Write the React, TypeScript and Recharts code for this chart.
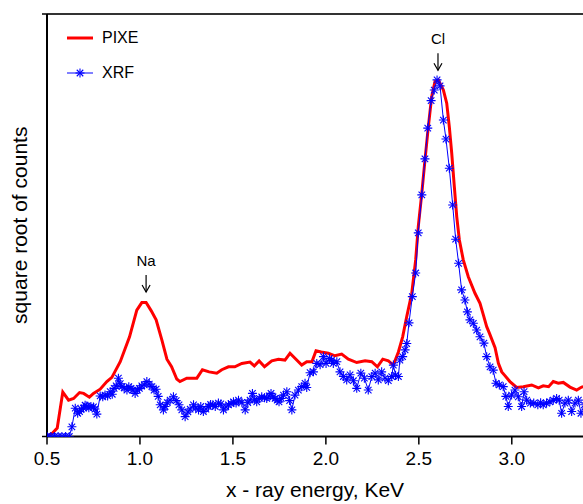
import React from 'react';
import { LineChart, Line, XAxis, YAxis, ReferenceDot, ReferenceLine } from 'recharts';

// energies in KeV, counts in arbitrary "square root of counts" units (top of frame = 100)
const pixeEnergy = [
  0.5, 0.53, 0.555, 0.585, 0.616, 0.643, 0.675, 0.697, 0.728, 0.75, 0.786, 0.822, 0.849, 0.894, 0.944,
  0.983, 1.01, 1.033, 1.06, 1.087, 1.118, 1.145, 1.17, 1.198, 1.215, 1.252, 1.306, 1.336, 1.372, 1.413,
  1.44, 1.476, 1.51, 1.548, 1.592, 1.615, 1.641, 1.67, 1.709, 1.745, 1.78, 1.807, 1.843, 1.87, 1.897,
  1.925, 1.947, 1.975, 2.013, 2.049, 2.085, 2.121, 2.166, 2.211, 2.247, 2.277, 2.306, 2.336, 2.363, 2.39,
  2.413, 2.435, 2.462, 2.483, 2.497, 2.516, 2.533, 2.551, 2.569, 2.587, 2.605, 2.632, 2.65, 2.664, 2.677,
  2.691, 2.704, 2.718, 2.739, 2.766, 2.802, 2.829, 2.847, 2.865, 2.88, 2.91, 2.928, 2.946, 2.963, 2.99,
  3.026, 3.062, 3.107, 3.143, 3.169, 3.198, 3.223, 3.25, 3.277, 3.313, 3.349, 3.376, 3.4,
];
const pixeCounts = [
  0, 0.8, 2, 10.5, 8.6, 9.0, 10.4, 10.2, 9.3, 10.2, 11.2, 13, 14, 17.7, 23.6,
  29.9, 31.7, 31.7, 29.8, 27.6, 22.8, 18.3, 16.5, 13.6, 13.0, 13.8, 13.8, 15.8, 15.3, 15.0,
  15.8, 16.5, 16.5, 17.3, 17.6, 16.7, 17.9, 16.5, 17.9, 18.3, 18.1, 19.7, 18.1, 16.9, 17.7,
  17.7, 20.3, 20.0, 19.7, 19.1, 19.5, 18.3, 17.5, 17.9, 17.7, 16.5, 18.3, 17.9, 16.9, 20.0,
  23.6, 28.4, 33.9, 41.8, 49.7, 57.6, 65.4, 73.3, 80.4, 84.0, 84.4, 82, 78.9, 73.3, 67,
  59.1, 52, 46.5, 41.8, 37.8, 33.9, 31.5, 28.8, 26, 24.4, 21.0, 17.3, 15.3, 14.4, 13.0,
  11.6, 11.8, 12.2, 11.5, 12.0, 11.8, 13.0, 12.6, 12.8, 11.7, 11.0, 11.7, 12,
];

const xrfEnergy = [
  0.5, 0.52, 0.54, 0.56, 0.58, 0.6, 0.62, 0.634, 0.652, 0.665, 0.675, 0.685, 0.696, 0.705, 0.714,
  0.725, 0.736, 0.75, 0.758, 0.768, 0.786, 0.8, 0.812, 0.826, 0.84, 0.851, 0.861, 0.872, 0.884, 0.894,
  0.903, 0.915, 0.93, 0.94, 0.952, 0.962, 0.974, 0.986, 0.997, 1.01, 1.023, 1.037, 1.05, 1.064, 1.076,
  1.087, 1.098, 1.109, 1.126, 1.135, 1.147, 1.162, 1.18, 1.195, 1.21, 1.225, 1.243, 1.258, 1.27, 1.288,
  1.3, 1.315, 1.327, 1.341, 1.355, 1.368, 1.38, 1.392, 1.405, 1.422, 1.435, 1.449, 1.462, 1.476, 1.49,
  1.503, 1.517, 1.53, 1.548, 1.566, 1.58, 1.592, 1.605, 1.617, 1.628, 1.642, 1.655, 1.67, 1.682, 1.695,
  1.705, 1.716, 1.727, 1.738, 1.748, 1.76, 1.772, 1.79, 1.805, 1.817, 1.834, 1.852, 1.87, 1.888, 1.897,
  1.915, 1.933, 1.951, 1.969, 1.987, 2.001, 2.019, 2.03, 2.04, 2.059, 2.076, 2.094, 2.112, 2.13, 2.148,
  2.166, 2.188, 2.207, 2.228, 2.247, 2.265, 2.282, 2.3, 2.318, 2.336, 2.354, 2.363, 2.375, 2.39, 2.398,
  2.413, 2.426, 2.435, 2.447, 2.465, 2.483, 2.497, 2.516, 2.533, 2.548, 2.566, 2.583, 2.598, 2.614, 2.632,
  2.646, 2.664, 2.682, 2.698, 2.714, 2.73, 2.748, 2.761, 2.775, 2.793, 2.811, 2.829, 2.85, 2.865, 2.883,
  2.9, 2.915, 2.933, 2.954, 2.968, 2.981, 2.999, 3.017, 3.035, 3.053, 3.066, 3.08, 3.1, 3.118, 3.14,
  3.155, 3.169, 3.187, 3.205, 3.223, 3.241, 3.255, 3.268, 3.286, 3.304, 3.322, 3.34, 3.358, 3.372, 3.39,
];
const xrfCounts = [
  0, 0, 0, 0, 0, 0, 0, 2.3, 6.7, 5.5, 5.9, 6.5, 6.7, 7.4, 7.2,
  6.8, 7.1, 7.0, 6.5, 5.3, 9.6, 9.4, 9.8, 9.6, 10.6, 10.0, 11.4, 12.0, 13.8, 12.5,
  11.8, 11.5, 11.0, 11.8, 11.4, 11.0, 10.2, 11.0, 11.4, 12.0, 12.2, 13.0, 12.4, 11.8, 11.0,
  11.2, 9.5, 7.5, 6.3, 7.1, 8.0, 8.6, 9.4, 8.5, 7.5, 6.3, 4.7, 5.8, 6.5, 7.5,
  6.8, 6.3, 7.1, 5.9, 6.5, 7.1, 7.6, 7.5, 7.1, 7.9, 7.7, 6.3, 7.0, 7.5, 7.8,
  8.2, 7.9, 8.6, 8.1, 6.3, 8.0, 8.6, 10.2, 8.8, 8.2, 9.0, 9.4, 9.2, 9.0, 9.6,
  10.2, 9.4, 9.0, 8.6, 8.2, 9.0, 9.8, 10.6, 8.5, 6.3, 9.8, 11.0, 11.8, 12.6, 11.6,
  15.1, 15.3, 17.3, 17.0, 18.9, 17.3, 18.5, 18.0, 17.3, 17.7, 15.3, 14.2, 13.4, 14.6, 13.2,
  11.4, 15.0, 13.8, 11.0, 14.2, 15.0, 13.4, 15.3, 13.8, 13.2, 14.2, 16.9, 14.5, 14.2, 18.1,
  18.9, 20.5, 22.0, 26.9, 33.1, 38.7, 48.2, 57.2, 65.7, 73.0, 79.5, 82.0, 84.4, 83.0, 74.9,
  70.4, 63.5, 54.8, 46.7, 41.0, 34.7, 32.3, 29.5, 27.6, 26.8, 25.2, 23.6, 22.1, 18.9, 16.5,
  15.7, 12.6, 12.2, 11.8, 9.5, 7.1, 9.8, 11.0, 9.4, 7.1, 10.6, 8.6, 7.9, 7.9, 7.5,
  8.0, 7.5, 7.9, 8.2, 8.6, 9.0, 8.6, 5.5, 7.9, 8.6, 5.9, 7.9, 8.6, 5.5, 7.5,
];

const xTicks = [0.5, 1.0, 1.5, 2.0, 2.5, 3.0];
const yTop = 100;
const peaks = [
  { label: 'Na', energy: 1.033, counts: 34.2 },
  { label: 'Cl', energy: 2.603, counts: 86.7 },
];

const pixeData = pixeEnergy.map((e, i) => ({ e, v: pixeCounts[i] }));
const xrfData = xrfEnergy.map((e, i) => ({ e, v: xrfCounts[i] }));

const FONT = 'Liberation Sans, Arial, sans-serif';
const RED = '#ff0000';
const BLUE = '#0000ff';

function Asterisk({ cx, cy }: { cx?: number; cy?: number }) {
  if (cx == null || cy == null) return null;
  const r = 4.5;
  const d = r * 0.72;
  return (
    <g stroke={BLUE} strokeWidth={1.1}>
      <line x1={cx - r} y1={cy} x2={cx + r} y2={cy} />
      <line x1={cx} y1={cy - r} x2={cx} y2={cy + r} />
      <line x1={cx - d} y1={cy - d} x2={cx + d} y2={cy + d} />
      <line x1={cx - d} y1={cy + d} x2={cx + d} y2={cy - d} />
    </g>
  );
}

function PeakArrow({ cx, cy, label }: { cx?: number; cy?: number; label: string }) {
  if (cx == null || cy == null) return null;
  return (
    <g>
      <line x1={cx} y1={cy - 17} x2={cx} y2={cy} stroke="#000" strokeWidth={1.2} />
      <polyline points={`${cx - 4},${cy - 7} ${cx},${cy} ${cx + 4},${cy - 7}`} fill="none" stroke="#000" strokeWidth={1.2} />
      <text x={cx} y={cy - 26} textAnchor="middle" fontSize={15} fontFamily={FONT} fill="#000">
        {label}
      </text>
    </g>
  );
}

// legend sits inside the frame, top-left, without taking chart space
function LegendBox() {
  const row = { display: 'flex', alignItems: 'center', height: 20 } as const;
  const txt = { marginLeft: 9, fontSize: 16, fontFamily: FONT, color: '#000' };
  return (
    <div style={{ position: 'absolute', left: 67, top: 28 }}>
      <div style={{ ...row, marginBottom: 15 }}>
        <svg width={26} height={20}>
          <line x1={0} y1={10} x2={26} y2={10} stroke={RED} strokeWidth={3} />
        </svg>
        <span style={txt}>PIXE</span>
      </div>
      <div style={row}>
        <svg width={26} height={20}>
          <line x1={0} y1={10} x2={26} y2={10} stroke={BLUE} strokeWidth={1} />
          <Asterisk cx={13} cy={10} />
        </svg>
        <span style={txt}>XRF</span>
      </div>
    </div>
  );
}

export default function App() {
  return (
    <div style={{ position: 'absolute', left: 0, top: 0, width: 583, height: 504, background: '#fff' }}>
      <LineChart width={583} height={504} margin={{ top: 14, right: 0, left: 0, bottom: 0 }}>
        <XAxis
          type="number"
          dataKey="e"
          domain={[0.5, 3.383]}
          allowDataOverflow
          ticks={xTicks}
          tickFormatter={(v) => v.toFixed(1)}
          height={67.5}
          tickSize={8}
          tickMargin={7}
          stroke="#000"
          axisLine={{ stroke: '#000', strokeWidth: 2 }}
          tickLine={{ stroke: '#000', strokeWidth: 1.5 }}
          tick={{ fill: '#000', fontSize: 19, fontFamily: FONT }}
          label={{ value: 'x - ray energy, KeV', position: 'insideBottom', offset: 7, fill: '#000', fontSize: 21, fontFamily: FONT }}
        />
        <YAxis
          type="number"
          dataKey="v"
          domain={[0, yTop]}
          allowDataOverflow
          ticks={[0, yTop]}
          tickFormatter={() => ''}
          width={47}
          tickSize={5}
          axisLine={{ stroke: '#000', strokeWidth: 2 }}
          tickLine={{ stroke: '#000', strokeWidth: 1.5 }}
          label={{ value: 'square root of counts', angle: -90, position: 'insideLeft', offset: 20, fill: '#000', fontSize: 21, fontFamily: FONT, style: { textAnchor: 'middle' } }}
        />
        {/* top frame line */}
        <ReferenceLine y={yTop} ifOverflow="visible" stroke="#333" strokeWidth={2} />
        <Line data={pixeData} dataKey="v" type="linear" stroke={RED} strokeWidth={3} dot={false} isAnimationActive={false} />
        <Line
          data={xrfData}
          dataKey="v"
          type="linear"
          stroke={BLUE}
          strokeWidth={1}
          dot={(p: any) => <Asterisk key={p.index} cx={p.cx} cy={p.cy} />}
          isAnimationActive={false}
        />
        {peaks.map((p) => (
          <ReferenceDot key={p.label} x={p.energy} y={p.counts} r={0} shape={(s: any) => <PeakArrow cx={s.cx} cy={s.cy} label={p.label} />} />
        ))}
      </LineChart>
      <LegendBox />
    </div>
  );
}
